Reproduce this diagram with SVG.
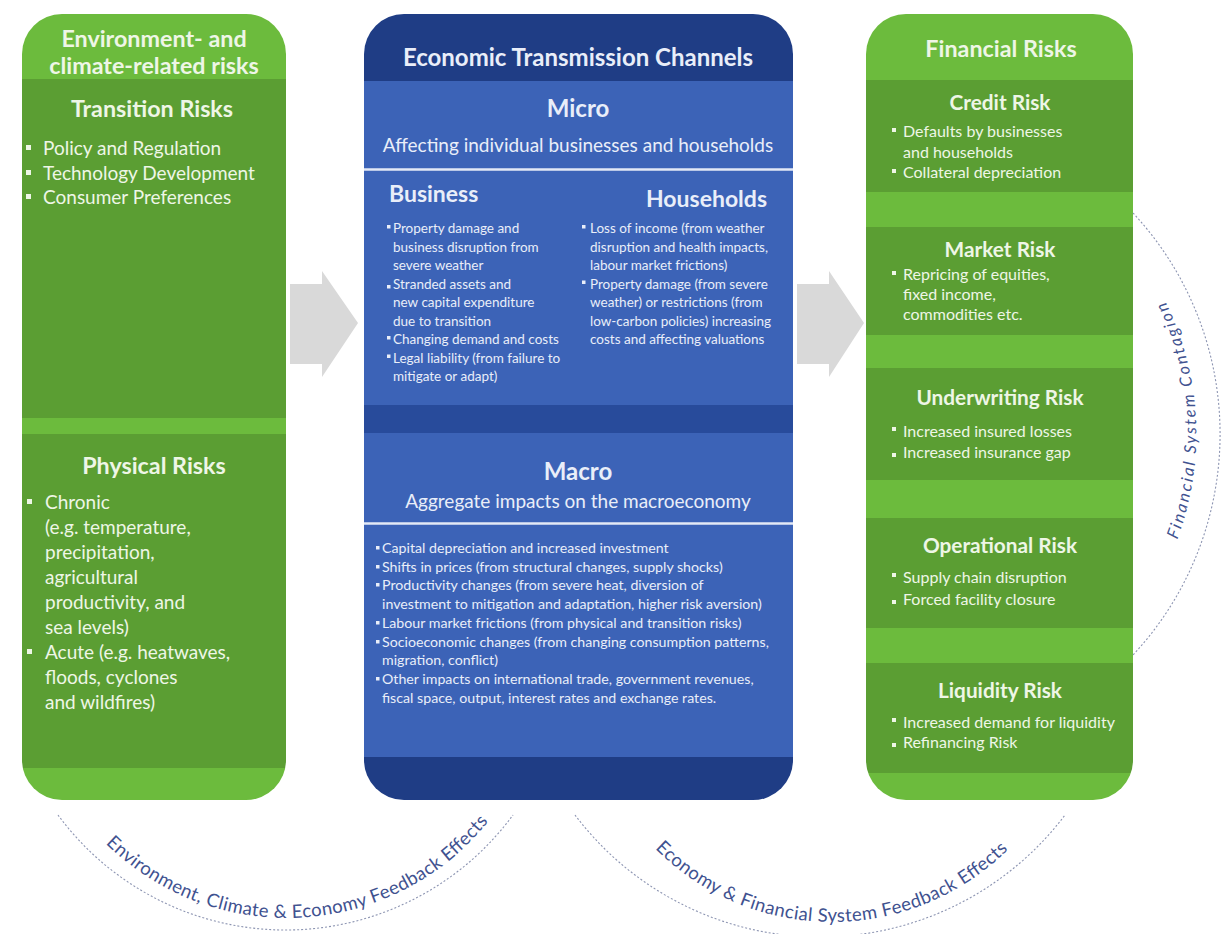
<svg xmlns="http://www.w3.org/2000/svg" width="1227" height="934" viewBox="0 0 1227 934">
<defs>
<style>
text{font-family:Lato,"Open Sans","Liberation Sans",sans-serif}
.g{fill:#eef6e6}
.b{fill:#e9eef9}
.h1{font-size:23.3px;font-weight:bold;text-anchor:middle}
.h3{font-size:20.8px;font-weight:bold;text-anchor:middle}
.lb{font-size:19px}
.sub{font-size:19px;text-anchor:middle}
.mb{font-size:13.5px}
.mm{font-size:14.2px}
.rb{font-size:16px}
.arc{fill:#3f5290;font-size:18.5px}
.dash{fill:none;stroke:#8d95b2;stroke-width:1.1;stroke-dasharray:2 2}
.lt{fill:#6cbb3d}
.dk{fill:#5b9e33}
.nv{fill:#1f3d85}
.bl{fill:#3c63b7}
.nb{fill:#284b9b}
.sep{stroke:#e3e9f6;stroke-width:2.5}
.arrow{fill:#d9d9d9}
</style>
<clipPath id="cl"><rect x="22" y="14" width="264" height="786" rx="40"/></clipPath>
<clipPath id="cm"><rect x="364" y="14" width="429" height="786" rx="40"/></clipPath>
<clipPath id="cr"><rect x="866" y="14" width="267" height="786" rx="40"/></clipPath>
<path id="pl" d="M 29 660 A 258 258 0 0 0 545 660"/>
<path id="pr" d="M 582 672 A 250 250 0 0 0 1082 672"/>
<path id="pv" d="M 1046 694 A 300 300 0 0 0 1046 174"/>
</defs>

<g id="env-risks">
<g clip-path="url(#cl)">
<rect class="lt" x="22" y="14" width="264" height="65"/>
<rect class="dk" x="22" y="79" width="264" height="339"/>
<rect class="lt" x="22" y="418" width="264" height="16"/>
<rect class="dk" x="22" y="434" width="264" height="334"/>
<rect class="lt" x="22" y="768" width="264" height="32"/>
</g>
<text class="g h1" x="154" y="47">Environment- and</text>
<text class="g h1" x="154" y="74">climate-related risks</text>
<text class="g h1" x="152" y="117">Transition Risks</text>
<g class="g lb">
<rect x="26" y="145" width="5" height="5"/><text x="43" y="155">Policy and Regulation</text>
<rect x="26" y="170" width="5" height="5"/><text x="43" y="180">Technology Development</text>
<rect x="26" y="194" width="5" height="5"/><text x="43" y="204">Consumer Preferences</text>
</g>
<text class="g h1" x="154" y="474">Physical Risks</text>
<g class="g lb">
<rect x="27" y="499" width="5" height="5"/><text x="45" y="509">Chronic</text>
<text x="45" y="534">(e.g. temperature,</text>
<text x="45" y="559">precipitation,</text>
<text x="45" y="584">agricultural</text>
<text x="45" y="609">productivity, and</text>
<text x="45" y="634">sea levels)</text>
<rect x="27" y="649" width="5" height="5"/><text x="45" y="659">Acute (e.g. heatwaves,</text>
<text x="45" y="684">floods, cyclones</text>
<text x="45" y="709">and wildfires)</text>
</g>
</g>

<g id="transmission-channels">
<g clip-path="url(#cm)">
<rect class="nv" x="364" y="14" width="429" height="67"/>
<rect class="bl" x="364" y="81" width="429" height="324"/>
<rect class="nb" x="364" y="405" width="429" height="28"/>
<rect class="bl" x="364" y="433" width="429" height="324"/>
<rect class="nv" x="364" y="757" width="429" height="43"/>
</g>
<line class="sep" x1="364" y1="169.5" x2="793" y2="169.5"/>
<line class="sep" x1="364" y1="523.5" x2="793" y2="523.5"/>
<text class="b h1" x="578" y="66" style="font-size:24px">Economic Transmission Channels</text>
<text class="b h1" x="578" y="117" style="font-size:24px">Micro</text>
<text class="b sub" x="578" y="152">Affecting individual businesses and households</text>
<text class="b" x="389" y="202" style="font-size:23px;font-weight:bold">Business</text>
<text class="b" x="767" y="207" style="font-size:23px;font-weight:bold;text-anchor:end">Households</text>
<g class="b mb">
<rect x="387" y="225" width="3.5" height="3.5"/><text x="393" y="233">Property damage and</text>
<text x="393" y="251.5">business disruption from</text>
<text x="393" y="270">severe weather</text>
<rect x="387" y="285" width="3.5" height="3.5"/><text x="393" y="288.5">Stranded assets and</text>
<text x="393" y="307">new capital expenditure</text>
<text x="393" y="325.5">due to transition</text>
<rect x="387" y="336" width="3.5" height="3.5"/><text x="393" y="344">Changing demand and costs</text>
<rect x="387" y="354.5" width="3.5" height="3.5"/><text x="393" y="362.5">Legal liability (from failure to</text>
<text x="393" y="381">mitigate or adapt)</text>
</g>
<g class="b mb">
<rect x="582" y="225" width="3.5" height="3.5"/><text x="590" y="233">Loss of income (from weather</text>
<text x="590" y="251.5">disruption and health impacts,</text>
<text x="590" y="270">labour market frictions)</text>
<rect x="582" y="280.5" width="3.5" height="3.5"/><text x="590" y="288.5">Property damage (from severe</text>
<text x="590" y="307">weather) or restrictions (from</text>
<text x="590" y="325.5">low-carbon policies) increasing</text>
<text x="590" y="344">costs and affecting valuations</text>
</g>
<text class="b h1" x="578" y="480" style="font-size:24px">Macro</text>
<text class="b sub" x="578" y="508">Aggregate impacts on the macroeconomy</text>
<g class="b mm">
<rect x="376" y="546" width="3.5" height="3.5"/><text x="382" y="553">Capital depreciation and increased investment</text>
<rect x="376" y="565" width="3.5" height="3.5"/><text x="382" y="572">Shifts in prices (from structural changes, supply shocks)</text>
<rect x="376" y="583" width="3.5" height="3.5"/><text x="382" y="590">Productivity changes (from severe heat, diversion of</text>
<text x="382" y="609">investment to mitigation and adaptation, higher risk aversion)</text>
<rect x="376" y="621" width="3.5" height="3.5"/><text x="382" y="628">Labour market frictions (from physical and transition risks)</text>
<rect x="376" y="640" width="3.5" height="3.5"/><text x="382" y="647">Socioeconomic changes (from changing consumption patterns,</text>
<text x="382" y="665">migration, conflict)</text>
<rect x="376" y="677" width="3.5" height="3.5"/><text x="382" y="684">Other impacts on international trade, government revenues,</text>
<text x="382" y="703">fiscal space, output, interest rates and exchange rates.</text>
</g>
</g>

<g id="financial-risks">
<g clip-path="url(#cr)">
<rect class="lt" x="866" y="14" width="267" height="66"/>
<rect class="dk" x="866" y="80" width="267" height="112"/>
<rect class="lt" x="866" y="192" width="267" height="35"/>
<rect class="dk" x="866" y="227" width="267" height="108"/>
<rect class="lt" x="866" y="335" width="267" height="33"/>
<rect class="dk" x="866" y="368" width="267" height="112"/>
<rect class="lt" x="866" y="480" width="267" height="38"/>
<rect class="dk" x="866" y="518" width="267" height="110"/>
<rect class="lt" x="866" y="628" width="267" height="35"/>
<rect class="dk" x="866" y="663" width="267" height="110"/>
<rect class="lt" x="866" y="773" width="267" height="27"/>
</g>
<text class="g h1" x="1001" y="57">Financial Risks</text>
<text class="g h3" x="1000" y="110">Credit Risk</text>
<g class="g rb">
<rect x="892" y="128" width="4" height="4"/><text x="903" y="137">Defaults by businesses</text>
<text x="903" y="158">and households</text>
<rect x="892" y="169" width="4" height="4"/><text x="903" y="178">Collateral depreciation</text>
</g>
<text class="g h3" x="1000" y="257">Market Risk</text>
<g class="g rb">
<rect x="892" y="271" width="4" height="4"/><text x="903" y="280">Repricing of equities,</text>
<text x="903" y="300">fixed income,</text>
<text x="903" y="320">commodities etc.</text>
</g>
<text class="g h3" x="1000" y="405">Underwriting Risk</text>
<g class="g rb">
<rect x="892" y="427" width="4" height="4"/><text x="903" y="437">Increased insured losses</text>
<rect x="892" y="453" width="4" height="4"/><text x="903" y="458">Increased insurance gap</text>
</g>
<text class="g h3" x="1000" y="553">Operational Risk</text>
<g class="g rb">
<rect x="892" y="573" width="4" height="4"/><text x="903" y="583">Supply chain disruption</text>
<rect x="892" y="600" width="4" height="4"/><text x="903" y="605">Forced facility closure</text>
</g>
<text class="g h3" x="1000" y="698">Liquidity Risk</text>
<g class="g rb">
<rect x="892" y="718" width="4" height="4"/><text x="903" y="728">Increased demand for liquidity</text>
<rect x="892" y="743" width="4" height="4"/><text x="903" y="748">Refinancing Risk</text>
</g>
</g>

<g id="connectors">
<polygon class="arrow" points="290,284 322,284 322,271 358,323 322,377 322,364 290,364"/>
<polygon class="arrow" points="797,284 829,284 829,271 864,323 829,377 829,364 797,364"/>
<path class="dash" d="M 58 815 A 282.5 282.5 0 0 0 513 815"/>
<path class="dash" d="M 575 815 A 307 307 0 0 0 1065 815"/>
<path class="dash" d="M 1133 213 A 324 324 0 0 1 1133 655"/>
<text class="arc"><textPath href="#pl" startOffset="420" text-anchor="middle" textLength="432" lengthAdjust="spacing">Environment, Climate &amp; Economy Feedback Effects</textPath></text>
<text class="arc"><textPath href="#pr" startOffset="392" text-anchor="middle" textLength="392" lengthAdjust="spacing">Economy &amp; Financial System Feedback Effects</textPath></text>
<text class="arc" style="font-style:italic;font-size:16.5px"><textPath href="#pv" startOffset="329" text-anchor="middle" textLength="245" lengthAdjust="spacing">Financial System Contagion</textPath></text>
</g>
</svg>
